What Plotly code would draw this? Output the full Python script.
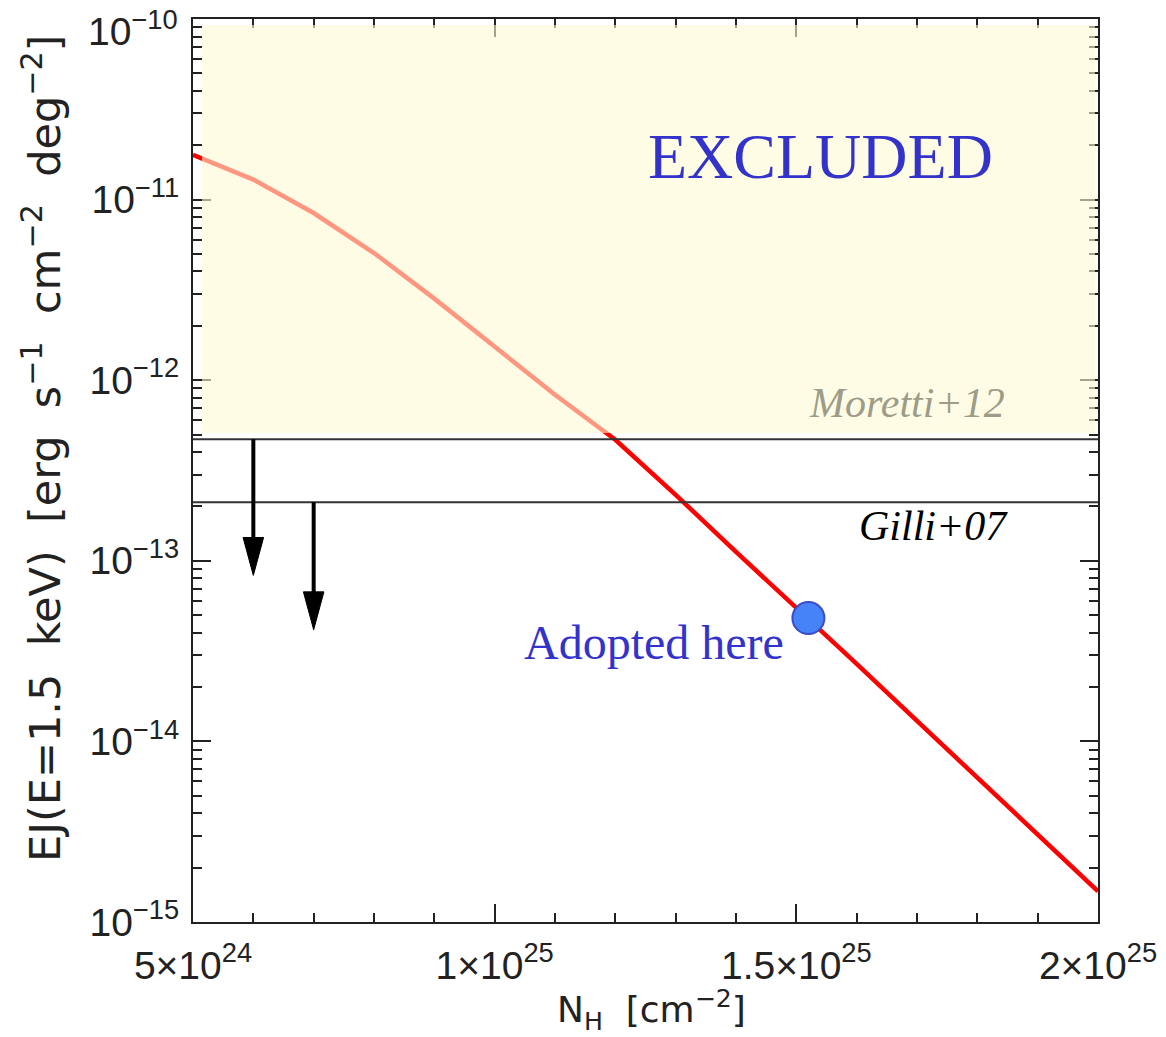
import numpy as np
import plotly.graph_objects as go

# ---------------- data ----------------
nh_cm2 = [5.0e24, 6.0e24, 7.0e24, 8.0e24, 9.0e24, 1.0e25, 1.1e25, 1.2e25,
          1.3e25, 1.4e25, 1.5e25, 1.6e25, 1.7e25, 1.8e25, 1.9e25, 2.0e25]
ej_flux = [1.77e-11, 1.29e-11, 8.43e-12, 5.06e-12, 2.83e-12, 1.53e-12, 8.3e-13, 4.68e-13,
           2.32e-13, 1.12e-13, 5.5e-14, 2.69e-14, 1.30e-14, 6.3e-15, 3.05e-15, 1.48e-15]

adopted_nh = [1.52e25]
adopted_ej = [4.82e-14]

moretti_level = 4.71e-13
gilli_level = 2.11e-13
excluded_bottom = 5.1e-13
excluded_top = 9.27e-11
excluded_x = [5.15e24, 1.995e25]

limit_x = [6.0e24, 7.0e24]
limit_start = [moretti_level, gilli_level]
limit_tip = [8.3e-14, 4.15e-14]

x_range = [5e24, 2e25]
x_tickvals = [5e24, 1e25, 1.5e25, 2e25]
x_ticktext = ["5×10<sup>24</sup>", "1×10<sup>25</sup>", "1.5×10<sup>25</sup>", "2×10<sup>25</sup>"]
x_minor = [v * 1e24 for v in range(6, 20) if v not in (10, 15)]

y_exps = [-15, -14, -13, -12, -11, -10]
y_tickvals = [10.0 ** e for e in y_exps]
y_ticktext = ["10<sup>−%d</sup>" % (-e) for e in y_exps]
y_minor = [m * 10.0 ** e for e in y_exps[:-1] for m in range(2, 10)]

# label positions (x data, log10 y)
labels = [
    ("EXCLUDED", 1.54e25, -10.759, 64, "#3333CC", "normal"),
    ("Moretti+12", 1.6826e25, -12.1235, 42, "#9C9C88", "italic"),
    ("Gilli+07", 1.728e25, -12.8045, 42, "#000000", "italic"),
    ("Adopted here", 1.264e25, -13.455, 48, "#3333CC", "normal"),
]

# ---------------- figure ----------------
fig = go.Figure()

fig.add_trace(go.Scatter(x=nh_cm2, y=ej_flux, mode="lines",
                         line=dict(color="#FF0000", width=4.5), hoverinfo="skip"))

for lvl in (moretti_level, gilli_level):
    fig.add_trace(go.Scatter(x=x_range, y=[lvl, lvl], mode="lines",
                             line=dict(color="#333333", width=2), hoverinfo="skip"))

# upper-limit arrows
head_dec = 0.21
half_w = 1.7e23
shapes = []
for xv, ys, yt in zip(limit_x, limit_start, limit_tip):
    head_top = yt * 10 ** head_dec
    fig.add_trace(go.Scatter(x=[xv, xv], y=[ys, head_top * 0.97], mode="lines",
                             line=dict(color="#000000", width=4), hoverinfo="skip"))
    shapes.append(dict(type="path", xref="x", yref="y",
                       path=f"M {xv - half_w},{head_top} L {xv + half_w},{head_top} L {xv},{yt} Z",
                       fillcolor="#000000", line=dict(color="#000000", width=1), layer="above"))

fig.add_trace(go.Scatter(x=adopted_nh, y=adopted_ej, mode="markers",
                         marker=dict(size=32, color="#4682F8",
                                     line=dict(color="#3A4CC8", width=2)),
                         hoverinfo="skip"))

# excluded region overlay (semi-transparent, above the curve)
shapes.insert(0, dict(type="rect", xref="x", yref="y",
                      x0=excluded_x[0], x1=excluded_x[1],
                      y0=excluded_bottom, y1=excluded_top,
                      fillcolor="rgba(255,250,213,0.6)", line=dict(width=0), layer="above"))

annotations = []
for txt, xv, yl, size, col, style in labels:
    annotations.append(dict(text=txt, x=xv, y=yl, xref="x", yref="y", showarrow=False,
                            xanchor="center", yanchor="middle",
                            font=dict(family="Liberation Serif", size=size, color=col, style=style)))

tickfont = dict(family="Liberation Sans", size=39, color="#222222")

# the top decade label sits just inside the figure edge (as in the original)
axis_ticktext = y_ticktext[:-1] + [""]
annotations.append(dict(text=y_ticktext[-1], x=-0.0144, y=0.990, xref="paper", yref="paper",
                        showarrow=False, xanchor="right", yanchor="middle", font=tickfont))

nb = "\u00a0"
ytitle = ("EJ(E=1.5" + nb * 2 + "keV)" + nb * 2 + "[erg" + nb * 2 + "s<sup>−1</sup>" + nb * 2 +
          "cm<sup>−2</sup>" + nb * 2 + "deg<sup>−2</sup>]")
annotations.append(dict(text=ytitle, x=-0.1669, y=0.525, xref="paper", yref="paper",
                        showarrow=False, textangle=-90, xanchor="center", yanchor="middle",
                        font=dict(family="DejaVu Sans", size=43, color="#222222")))
annotations.append(dict(text="N<sub>H</sub>" + nb * 2 + "[cm<sup>−2</sup>]", x=0.507, y=-0.098,
                        xref="paper", yref="paper", showarrow=False,
                        xanchor="center", yanchor="middle",
                        font=dict(family="DejaVu Sans", size=36, color="#222222")))

fig.update_layout(
    width=1166, height=1037,
    margin=dict(l=193, r=68, t=19, b=115, autoexpand=False),
    paper_bgcolor="white", plot_bgcolor="white",
    showlegend=False,
    shapes=shapes, annotations=annotations,
    xaxis=dict(range=x_range, tickmode="array", tickvals=x_tickvals, ticktext=x_ticktext,
               ticks="inside", ticklen=18, tickwidth=1.5, tickcolor="#222222",
               showline=True, linecolor="#222222", linewidth=2, mirror="ticks",
               showgrid=False, zeroline=False, tickfont=tickfont, ticklabelstandoff=8,
               ticklabeloverflow="allow", automargin=False,
               minor=dict(tickmode="array", tickvals=x_minor, ticks="inside", ticklen=9,
                          tickwidth=1.5, tickcolor="#222222", showgrid=False)),
    yaxis=dict(type="log", range=[-15, -9.9999], tickmode="array", tickvals=y_tickvals,
               ticktext=axis_ticktext,
               ticks="inside", ticklen=18, tickwidth=1.5, tickcolor="#222222",
               showline=True, linecolor="#222222", linewidth=2, mirror="ticks",
               showgrid=False, zeroline=False, tickfont=tickfont, ticklabelstandoff=4,
               ticklabeloverflow="allow", automargin=False,
               minor=dict(tickmode="array", tickvals=y_minor, ticks="inside", ticklen=9,
                          tickwidth=1.5, tickcolor="#222222", showgrid=False)),
)

fig.write_html("out.html")
